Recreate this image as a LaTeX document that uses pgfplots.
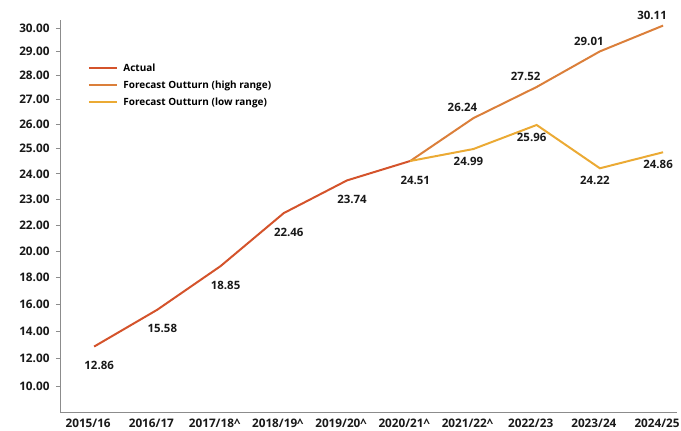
\documentclass[border=0pt]{standalone}
\usepackage{fontspec}
\setmainfont{Open Sans}
\usepackage{pgfplots}
\pgfplotsset{compat=1.18}
\usepackage{pgfplotstable}

\definecolor{actual}{HTML}{D4532B}
\definecolor{high}{HTML}{DB7F3A}
\definecolor{low}{HTML}{EBAA34}
\definecolor{axisgrey}{HTML}{8C8C8C}

% values in GBP bn (as labelled)
\pgfplotstableread{
x v
0 12.86
1 15.58
2 18.85
3 22.46
4 23.74
5 24.51
}\actualdata
\pgfplotstableread{
x v
5 24.51
6 26.24
7 27.52
8 29.01
9 30.11
}\highdata
\pgfplotstableread{
x v
5 24.51
6 24.99
7 25.96
8 24.22
9 24.86
}\lowdata

\begin{document}
\begin{tikzpicture}
\begin{axis}[
    scale only axis,
    width=617bp, height=392bp,
    xmin=-0.54, xmax=9.22,
    ymin=-26, ymax=366,
    axis x line*=bottom, axis y line*=left,
    axis line style={draw=axisgrey, line width=1pt},
    xtick={0,...,9},
    xticklabels={2015/16,2016/17,2017/18\textasciicircum,2018/19\textasciicircum,2019/20\textasciicircum,2020/21\textasciicircum,2021/22\textasciicircum,2022/23,2023/24,2024/25},
    % the printed scale steps by 2 up to 22, then by 1
    ytick={0,27.64,54.96,81.96,108.64,135,161.04,186.76,212.16,237.24,262,286.44,310.56,334.36,357.84},
    yticklabels={10.00,12.00,14.00,16.00,18.00,20.00,22.00,23.00,24.00,25.00,26.00,27.00,28.00,29.00,30.00},
    xtick style={draw=none},
    ytick style={draw=axisgrey, line width=0.8pt},
    tick align=outside,
    major tick length=4bp,
    /pgf/number format/assume math mode=true,
    ticklabel style={font=\fontsize{11.8}{14}\selectfont\bfseries, text=black!90},
    yticklabel style={xshift=-3bp},
    xticklabel style={xshift=-6bp, yshift=1bp},
    declare function={
        idx(\v)=(\v<=22)*(\v-10)/2+(\v>22)*(\v-16);
        pos(\v)=27.8*idx(\v)-0.16*idx(\v)^2;
    },
    point meta=explicit,
    nodes near coords={\pgfmathprintnumber[fixed,fixed zerofill,precision=2]{\pgfplotspointmeta}},
    every node near coord/.append style={font=\fontsize{11.5}{13}\selectfont\bfseries, text=black!90, inner sep=0pt},
    legend style={at={(rel axis cs:0.045,0.893)}, anchor=north west, draw=none, fill=none,
        font=\fontsize{10}{12}\selectfont\bfseries, row sep=5bp, column sep=4bp, inner sep=0pt,
        nodes={inner sep=1.5bp}},
    legend cell align=left,
    legend image code/.code={\draw[#1, line width=2pt] (0bp,0bp) -- (28bp,0bp);},
    clip=false,
]

\addplot[actual, line width=2pt,
    nodes near coords style={anchor=north, xshift=5bp, yshift=-14bp}]
    table[x=x, y expr={pos(\thisrow{v})}, meta=v] {\actualdata};
\addlegendentry{Actual}

\addplot[high, line width=2pt, nodes near coords={}]
    table[x=x, y expr={pos(\thisrow{v})}, meta=v] {\highdata};
\addlegendentry{Forecast Outturn (high range)}

\addplot[low, line width=2pt, nodes near coords={}]
    table[x=x, y expr={pos(\thisrow{v})}, meta=v] {\lowdata};
\addlegendentry{Forecast Outturn (low range)}

% labels for the forecast points
\addplot[draw=none, forget plot, restrict x to domain=6:9,
    nodes near coords style={anchor=south, xshift=-11bp, yshift=6bp}]
    table[x=x, y expr={pos(\thisrow{v})}, meta=v] {\highdata};
\addplot[draw=none, forget plot, restrict x to domain=6:9,
    nodes near coords style={anchor=north, xshift=-5bp, yshift=-8bp}]
    table[x=x, y expr={pos(\thisrow{v})}, meta=v] {\lowdata};

\coordinate (bl) at (rel axis cs:0,0);
\end{axis}
\pgfresetboundingbox
\path (bl) ++(-60bp,-19bp) rectangle ++(681bp,431bp);
\end{tikzpicture}
\end{document}
